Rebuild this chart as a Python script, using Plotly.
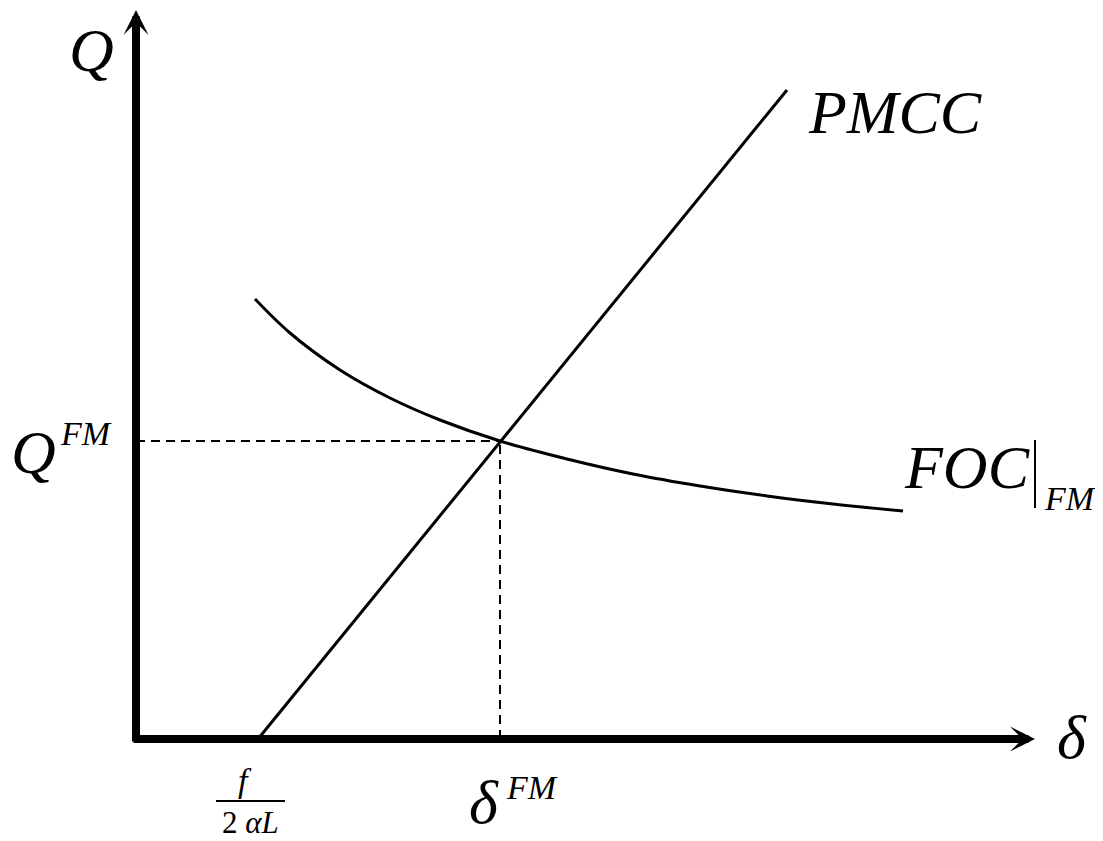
import plotly.graph_objects as go

# diagram units: 1 unit = 100 px, origin at the axes corner
pmcc_x = [1.22, 6.51]
pmcc_y = [0.0, 6.49]

foc_x = [1.19, 1.54, 2.04, 2.54, 3.04, 3.64, 4.31, 4.97, 5.64, 6.31, 6.97, 7.67]
foc_y = [4.40, 4.06, 3.69, 3.41, 3.19, 2.98, 2.80, 2.65, 2.53, 2.43, 2.35, 2.28]

d_fm = 3.64
q_fm = 2.98
x_max = 8.99
y_max = 7.29

SERIF = "'Liberation Serif', 'Times New Roman', serif"


def main():
    fig = go.Figure()

    # dashed guides to the equilibrium
    fig.add_trace(go.Scatter(x=[0, d_fm], y=[q_fm, q_fm], mode='lines',
                             line=dict(color='black', width=2, dash='9px,6px')))
    fig.add_trace(go.Scatter(x=[d_fm, d_fm], y=[0, q_fm], mode='lines',
                             line=dict(color='black', width=2, dash='9px,6px')))

    # curves
    fig.add_trace(go.Scatter(x=pmcc_x, y=pmcc_y, mode='lines',
                             line=dict(color='black', width=3)))
    fig.add_trace(go.Scatter(x=foc_x, y=foc_y, mode='lines',
                             line=dict(color='black', width=3, shape='spline', smoothing=1)))

    # axes with arrows
    for tip, tail in [((0, y_max), (0, -0.04)), ((x_max, 0), (-0.04, 0))]:
        fig.add_annotation(x=tip[0], y=tip[1], ax=tail[0], ay=tail[1],
                           xref='x', yref='y', axref='x', ayref='y',
                           text='', showarrow=True, arrowhead=3, arrowsize=0.52,
                           arrowwidth=8, arrowcolor='black')

    def label(x, y, txt, size):
        fig.add_annotation(x=x, y=y, xref='x', yref='y', text=txt, showarrow=False,
                           xanchor='center', yanchor='middle',
                           font=dict(family=SERIF, size=size, color='black'))

    label(-0.45, 6.89, '<i>Q</i>', 62)
    label(7.59, 6.27, '<i>PMCC</i>', 62)
    label(-1.03, 2.87, '<i>Q</i>', 62)
    label(-0.50, 3.06, '<i>FM</i>', 34)
    label(8.31, 2.72, '<i>FOC</i>', 62)
    label(9.34, 2.41, '<i>FM</i>', 34)
    label(9.36, 0.02, '<i>δ</i>', 62)
    label(1.09, -0.41, '<i>f</i>', 34)
    label(1.14, -0.83, '2 <i>αL</i>', 31)
    label(3.48, -0.63, '<i>δ</i>', 62)
    label(3.96, -0.48, '<i>FM</i>', 34)

    # evaluation bar and fraction bar
    fig.add_shape(type='line', x0=8.99, x1=8.99, y0=2.99, y1=2.31,
                  line=dict(color='black', width=2))
    fig.add_shape(type='line', x0=0.80, x1=1.49, y0=-0.62, y1=-0.62,
                  line=dict(color='black', width=2))

    # page body has an 8px margin, so the figure is 8px smaller and starts 8px in
    fig.update_layout(
        width=1095, height=833,
        margin=dict(l=0, r=0, t=0, b=0),
        paper_bgcolor='white', plot_bgcolor='white',
        showlegend=False,
        xaxis=dict(range=[-1.28, 9.67], visible=False, fixedrange=True),
        yaxis=dict(range=[-1.02, 7.31], visible=False, fixedrange=True),
    )
    fig.write_html('out.html')


if __name__ == '__main__':
    main()
